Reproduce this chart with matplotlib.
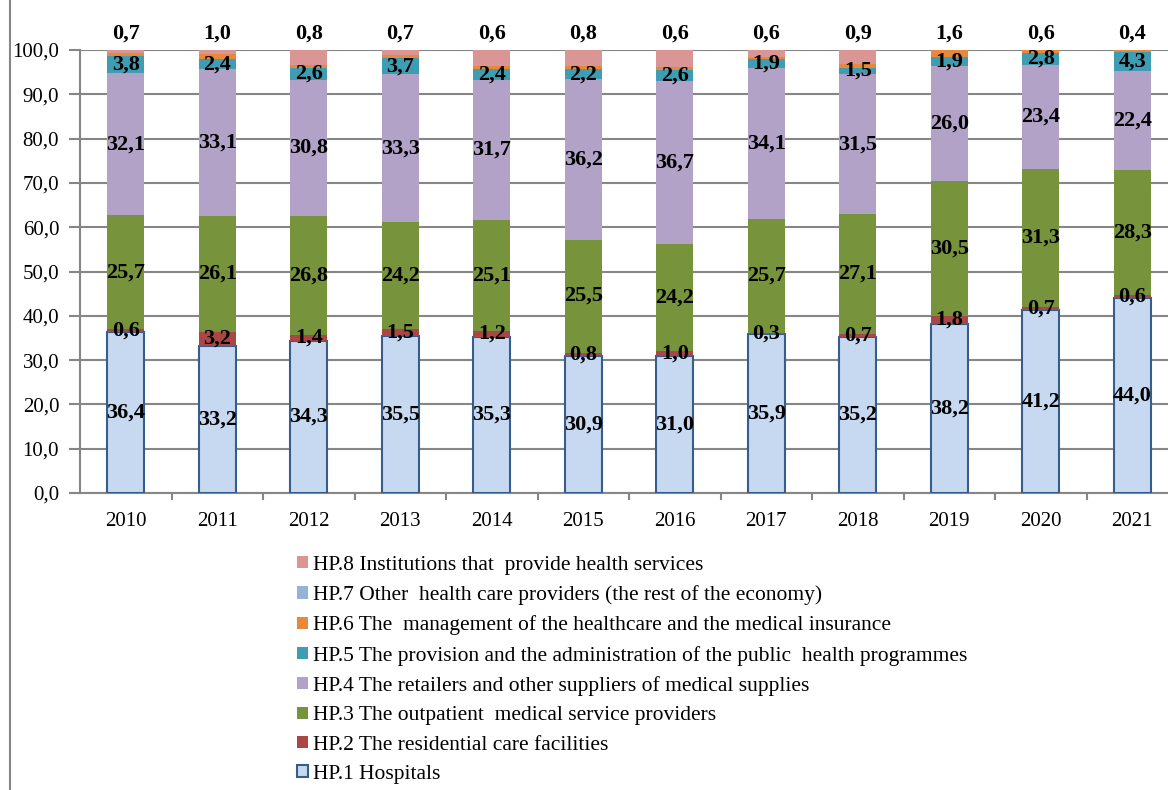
import matplotlib
matplotlib.use('Agg')
import matplotlib.pyplot as plt
import numpy as np
from matplotlib.patches import Patch
from matplotlib.lines import Line2D

# data (shares in %)
years = ['2010', '2011', '2012', '2013', '2014', '2015', '2016', '2017', '2018', '2019', '2020', '2021']
hp1 = [36.4, 33.2, 34.3, 35.5, 35.3, 30.9, 31.0, 35.9, 35.2, 38.2, 41.2, 44.0]
hp2 = [0.6, 3.2, 1.4, 1.5, 1.2, 0.8, 1.0, 0.3, 0.7, 1.8, 0.7, 0.6]
hp3 = [25.7, 26.1, 26.8, 24.2, 25.1, 25.5, 24.2, 25.7, 27.1, 30.5, 31.3, 28.3]
hp4 = [32.1, 33.1, 30.8, 33.3, 31.7, 36.2, 36.7, 34.1, 31.5, 26.0, 23.4, 22.4]
hp5 = [3.8, 2.4, 2.6, 3.7, 2.4, 2.2, 2.6, 1.9, 1.5, 1.9, 2.8, 4.3]
hp6 = [0.7, 1.0, 0.8, 0.7, 0.6, 0.8, 0.6, 0.6, 0.9, 1.6, 0.6, 0.4]
hp7 = [0.0, 0.0, 0.0, 0.0, 0.0, 0.0, 0.0, 0.0, 0.0, 0.0, 0.0, 0.0]
hp8 = [0.7, 1.0, 3.3, 1.1, 3.7, 3.6, 3.9, 1.5, 3.1, 0.0, 0.0, 0.0]

names = ['HP.1 Hospitals',
         'HP.2 The residential care facilities',
         'HP.3 The outpatient  medical service providers',
         'HP.4 The retailers and other suppliers of medical supplies',
         'HP.5 The provision and the administration of the public  health programmes',
         'HP.6 The  management of the healthcare and the medical insurance',
         'HP.7 Other  health care providers (the rest of the economy)',
         'HP.8 Institutions that  provide health services']
colors = ['#C6D9F1', '#AA4643', '#77933C', '#B3A2C7', '#3F9DB3', '#E8883A', '#95B3D7', '#D99694']

plt.rcParams['font.family'] = ['Liberation Serif', 'DejaVu Serif']

fig = plt.figure(figsize=(11.68, 7.90), dpi=100)
ax = fig.add_axes([80/1168, 1 - 493/790, 1098/1168, 443/790])

series = [hp1, hp2, hp3, hp4, hp5, hp6, hp7, hp8]
x = np.arange(len(years))
w = 0.40
bottom = np.zeros(len(years))
for i, vals in enumerate(series):
    vals = np.array(vals)
    if i == 0:
        ax.bar(x, vals, w, bottom=bottom, color=colors[i], edgecolor='#385D8A', linewidth=1.5, zorder=3)
    else:
        ax.bar(x, vals, w, bottom=bottom, color=colors[i], linewidth=0, zorder=3)
    # value labels for HP.1 - HP.5 inside the segments
    if i <= 4:
        for xi, b, v in zip(x, bottom, vals):
            ax.text(xi, b + v / 2, f'{v:.1f}'.replace('.', ','), ha='center', va='center',
                    fontsize=16, fontweight='bold', zorder=5)
    # HP.6 values above the bars
    if i == 5:
        for xi, v in zip(x, vals):
            ax.text(xi, 103.6, f'{v:.1f}'.replace('.', ','), ha='center', va='center',
                    fontsize=16, fontweight='bold', zorder=5)
    bottom += vals

ax.set_xlim(-0.5, len(years) - 0.5)
ax.set_ylim(0, 100)
ax.set_yticks(np.arange(0, 101, 10))
ax.set_yticklabels([f'{v:.1f}'.replace('.', ',') for v in np.arange(0, 101, 10)], fontsize=15)
ax.set_xticks(x)
ax.set_xticklabels(years, fontsize=15)
ax.set_xticks(np.arange(0.5, len(years) - 0.5, 1), minor=True)
ax.tick_params(axis='x', which='major', length=0, pad=14)
ax.tick_params(axis='x', which='minor', length=5, color='#868686', width=1.5, direction='out')
ax.tick_params(axis='y', length=8, color='#868686', width=1.5, pad=7)
ax.yaxis.grid(True, color='#868686', linewidth=1.5, zorder=0)
for s in ['top', 'right']:
    ax.spines[s].set_visible(False)
for s in ['left', 'bottom']:
    ax.spines[s].set_color('#868686')
    ax.spines[s].set_linewidth(1.5)
ax.set_axisbelow(True)

# legend, HP.8 on top
handles = []
for i in range(7, -1, -1):
    if i == 0:
        handles.append(Patch(facecolor=colors[i], edgecolor='#385D8A', linewidth=1.5))
    else:
        handles.append(Patch(facecolor=colors[i], edgecolor='none'))
labels = [names[i] for i in range(7, -1, -1)]
fig.legend(handles, labels, loc='upper left', bbox_to_anchor=(297/1168, 1 - 556/790),
           frameon=False, fontsize=15.5, handlelength=0.5, handleheight=0.5,
           handletextpad=0.25, labelspacing=0.48, borderaxespad=0, borderpad=0)

# chart area border on the left
fig.add_artist(Line2D([10/1168, 10/1168], [0, 1], color='#868686', linewidth=1.5))

fig.savefig('out.png', dpi=100)
